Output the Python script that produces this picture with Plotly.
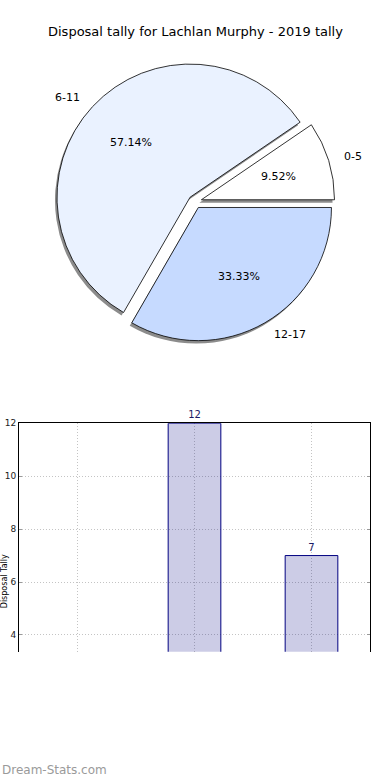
import math
import plotly.graph_objects as go

# ---- data ----
title_text = "Disposal tally for Lachlan Murphy - 2019 tally"
bins = ["0-5", "6-11", "12-17"]
games = [2, 12, 7]
pie_colors = ["#FFFFFF", "#EAF2FF", "#C6DAFF"]
y_ticks = [4, 6, 8, 10, 12]
y_label = "Disposal Tally"
watermark = "Dream-Stats.com"

W, H = 390, 780
PULL = 0.05

# pie geometry (pixels)
cx, cy, r = 195, 198, 134
half = r * (1 + PULL)
total = sum(games)
# plotly counterclockwise: first slice ends at the rotation angle
rot = 90 - 360 * games[0] / total


def dom(cxp, cyp):
    return dict(x=[(cxp - half) / W, (cxp + half) / W],
                y=[1 - (cyp + half) / H, 1 - (cyp - half) / H])


fig = go.Figure()

# shadow
fig.add_trace(go.Pie(
    labels=bins, values=games, sort=False, direction="counterclockwise",
    rotation=rot, pull=[PULL] * 3, textinfo="none", hoverinfo="skip",
    marker=dict(colors=["#8c8c8c"] * 3, line=dict(width=0)),
    domain=dom(cx - 2, cy + 3), showlegend=False,
))
# main pie
fig.add_trace(go.Pie(
    labels=bins, values=games, sort=False, direction="counterclockwise",
    rotation=rot, pull=[PULL] * 3, textinfo="none",
    marker=dict(colors=pie_colors, line=dict(color="#000000", width=0.8)),
    domain=dom(cx, cy), showlegend=False,
))

annotations = []
cum = 0
for lab, v in zip(bins, games):
    th = 2 * math.pi * (cum + v / 2) / total
    cum += v
    ex = cx + PULL * r * math.cos(th)
    ey = cy - PULL * r * math.sin(th)
    lx = ex + 1.1 * r * math.cos(th)
    ly = ey - 1.1 * r * math.sin(th)
    px = ex + 0.6 * r * math.cos(th)
    py = ey - 0.6 * r * math.sin(th)
    annotations.append(dict(
        x=lx / W, y=1 - ly / H, xref="paper", yref="paper", text=lab,
        showarrow=False, xanchor="left" if math.cos(th) >= 0 else "right",
        yanchor="middle", font=dict(size=11, color="#000000")))
    annotations.append(dict(
        x=px / W, y=1 - py / H, xref="paper", yref="paper",
        text="%.2f%%" % (100 * v / total), showarrow=False,
        xanchor="center", yanchor="middle",
        font=dict(size=11, color="#000000")))

# bar chart
fig.add_trace(go.Bar(
    x=bins, y=games, width=0.45, xaxis="x", yaxis="y",
    marker=dict(color="rgba(0,0,128,0.2)", line=dict(color="#000080", width=1)),
    text=[str(g) for g in games], textposition="outside", cliponaxis=False,
    textfont=dict(size=10, color="#1a1a66"), showlegend=False,
))

annotations.append(dict(x=195 / W, y=1 - 27 / H, xref="paper", yref="paper",
                        text=title_text, showarrow=False, xanchor="center",
                        yanchor="middle", font=dict(size=13, color="#000000")))
annotations.append(dict(x=4 / W, y=1 - 580 / H, xref="paper", yref="paper",
                        text=y_label, showarrow=False, textangle=-90,
                        xanchor="center", yanchor="middle",
                        font=dict(size=8, color="#000000")))
annotations.append(dict(x=0, y=1 - 770 / H, xref="paper", yref="paper",
                        text=watermark, showarrow=False, xanchor="left",
                        yanchor="middle", font=dict(size=12, color="#9a9a9a")))

grid_style = dict(showgrid=True, gridcolor="#c4c4c4", griddash="1px,2px",
                  gridwidth=1, zeroline=False)

fig.update_layout(
    width=W, height=H, margin=dict(l=0, r=0, t=0, b=0),
    paper_bgcolor="white", plot_bgcolor="white",
    font=dict(family="DejaVu Sans"),
    annotations=annotations,
    xaxis=dict(domain=[19 / W, 370 / W], range=[-0.5, 2.5], type="category",
               side="top", showline=True, linecolor="#000000", linewidth=1,
               showticklabels=False, ticks="", anchor="y", **grid_style),
    yaxis=dict(domain=[1 - 651 / H, 1 - 421 / H], range=[3.36, 12],
               tickvals=y_ticks, showline=True, mirror="ticks",
               linecolor="#000000", linewidth=1, ticks="inside", ticklen=3,
               tickcolor="#999999", tickfont=dict(size=9, color="#222222"),
               anchor="x", **grid_style),
)

fig.write_html("out.html", config={"displayModeBar": False},
               post_script="document.body.style.margin='0';document.body.style.overflow='hidden';")
